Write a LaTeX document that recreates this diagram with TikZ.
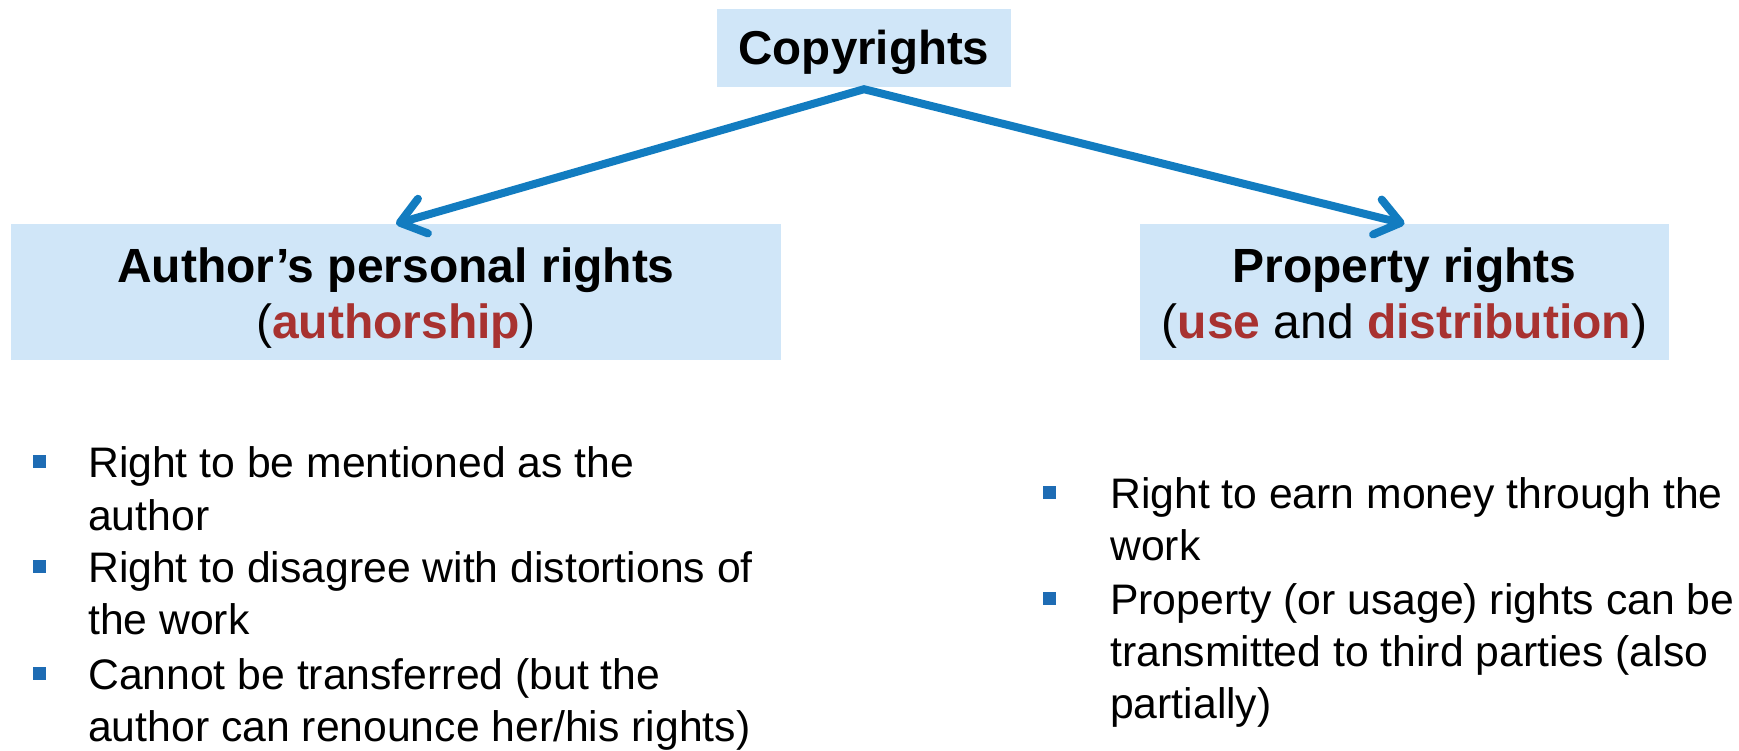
\documentclass[tikz,border=0pt]{standalone}
\usepackage{fontspec}
\setmainfont{Liberation Sans}
\usetikzlibrary{arrows.meta}
\definecolor{boxblue}{RGB}{208,230,248}
\definecolor{arrowblue}{RGB}{18,124,192}
\definecolor{darkred}{RGB}{168,50,48}
\definecolor{bulletblue}{RGB}{30,108,180}
\tikzset{
  box/.style={fill=boxblue, draw=none, inner sep=0pt},
  headtext/.style={anchor=base, inner sep=0pt, font=\fontsize{48}{56}\selectfont},
  itemtext/.style={anchor=base west, inner sep=0pt, font=\fontsize{42.7}{52}\selectfont},
  bulletsq/.style={fill=bulletblue, draw=none, inner sep=0pt, minimum size=13pt},
  arrowline/.style={draw=arrowblue, line width=8pt, line join=miter,
    {Straight Barb[length=24pt,width=36pt,round]}-{Straight Barb[length=24pt,width=36pt,round]}}
}
\newcommand{\rd}[1]{\textcolor{darkred}{\textbf{#1}}}
\begin{document}
\begin{tikzpicture}[x=1pt,y=-1pt]
\useasboundingbox (0,0) rectangle (1739,751);
% boxes
\node[box, minimum width=294pt, minimum height=78pt] (top) at (864,48) {};
\node[box, minimum width=770pt, minimum height=136pt] (lbox) at (396,292) {};
\node[box, minimum width=529pt, minimum height=136pt] (rbox) at (1404.5,292) {};
% box texts
\node[headtext, font=\fontsize{47.5}{56}\selectfont\bfseries] (toptext) at (864,65) {Copyrights};
\node[headtext] (l1) at (396,282) {\textbf{Author’s personal rights}};
\node[headtext] (l2) at (396,338) {(\rd{authorship})};
\node[headtext] (r1) at (1404.5,282) {\textbf{Property rights}};
\node[headtext] (r2) at (1404.5,338) {(\rd{use} and \rd{distribution})};
% arrows
\coordinate (apex) at ([yshift=-2pt]top.south);
\draw[arrowline] (lbox.north) -- (apex) -- (rbox.north);
% left list
\node[bulletsq] (lb1) at (39,461) {};
\node[itemtext] (la1) at (88,477) {Right to be mentioned as the};
\node[itemtext] (la2) at (88,530) {author};
\node[bulletsq] (lb2) at (39,566) {};
\node[itemtext] (lc1) at (88,582) {Right to disagree with distortions of};
\node[itemtext] (lc2) at (88,634) {the work};
\node[bulletsq] (lb3) at (39,673) {};
\node[itemtext] (ld1) at (88,689) {Cannot be transferred (but the};
\node[itemtext] (ld2) at (88,741) {author can renounce her/his rights)};
% right list
\node[bulletsq] (rb1) at (1049,492.5) {};
\node[itemtext] (ra1) at (1110,508) {Right to earn money through the};
\node[itemtext] (ra2) at (1110,560) {work};
\node[bulletsq] (rb2) at (1049,598.5) {};
\node[itemtext] (rc1) at (1110,614) {Property (or usage) rights can be};
\node[itemtext] (rc2) at (1110,666) {transmitted to third parties (also};
\node[itemtext] (rc3) at (1110,718) {partially)};
\end{tikzpicture}
\end{document}
